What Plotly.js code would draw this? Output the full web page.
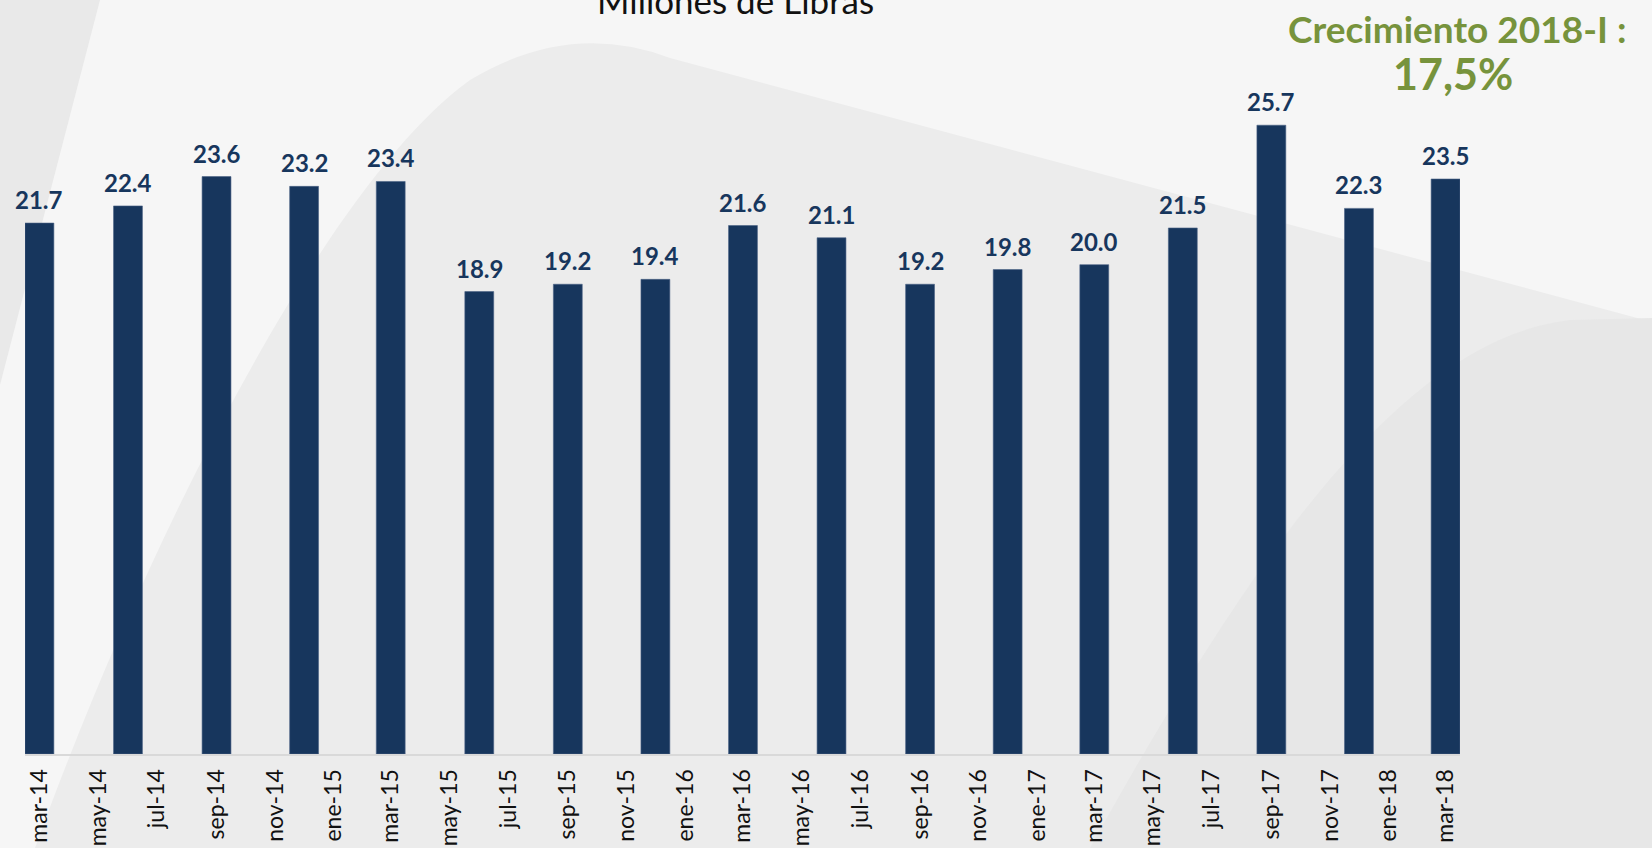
<!DOCTYPE html>
<html>
<head>
<meta charset="utf-8">
<script src="https://cdn.plot.ly/plotly-3.0.1.min.js"></script>
<style>html,body{margin:0;padding:0;background:#f6f6f6;}#chart{width:1652px;height:848px;}</style>
</head>
<body>
<div id="chart"></div>
<script>
// ---- data ----
const quarters = ['2014-03-01','2014-06-01','2014-09-01','2014-12-01',
                  '2015-03-01','2015-06-01','2015-09-01','2015-12-01',
                  '2016-03-01','2016-06-01','2016-09-01','2016-12-01',
                  '2017-03-01','2017-06-01','2017-09-01','2017-12-01',
                  '2018-03-01'];
const values = [21.7, 22.4, 23.6, 23.2, 23.4, 18.9, 19.2, 19.4, 21.6, 21.1,
                19.2, 19.8, 20.0, 21.5, 25.7, 22.3, 23.5];
const tickDates = ['2014-03-01','2014-05-01','2014-07-01','2014-09-01','2014-11-01',
                   '2015-01-01','2015-03-01','2015-05-01','2015-07-01','2015-09-01','2015-11-01',
                   '2016-01-01','2016-03-01','2016-05-01','2016-07-01','2016-09-01','2016-11-01',
                   '2017-01-01','2017-03-01','2017-05-01','2017-07-01','2017-09-01','2017-11-01',
                   '2018-01-01','2018-03-01'];
const tickLabels = ['mar-14','may-14','jul-14','sep-14','nov-14',
                    'ene-15','mar-15','may-15','jul-15','sep-15','nov-15',
                    'ene-16','mar-16','may-16','jul-16','sep-16','nov-16',
                    'ene-17','mar-17','may-17','jul-17','sep-17','nov-17',
                    'ene-18','mar-18'];
const unitTitle = 'Millones de Libras';
const growthTitle = 'Crecimiento 2018-I :';
const growthValue = '17,5%';

// ---- layout geometry ----
const W = 1652, H = 848;
const M = {l: 25, r: 192, t: 20, b: 94};
const PW = W - M.l - M.r, PH = H - M.t - M.b;
function px(x) { return ((x - M.l) / PW).toFixed(5); }
function py(y) { return ((H - M.b - y) / PH).toFixed(5); }
function pt(x, y) { return px(x) + ',' + py(y); }

const NAVY = '#17365d';
const GREEN = '#77933c';
const DAY = 86400000;

const bars = {
  type: 'bar',
  x: quarters,
  y: values,
  width: quarters.map(() => 30 * DAY),
  marker: {color: NAVY, line: {color: '#4a6284', width: 0.6}},
  hoverinfo: 'x+y'
};

const labelAnnotations = quarters.map((q, i) => ({
  x: q, y: values[i], xref: 'x', yref: 'y',
  text: values[i].toFixed(1),
  showarrow: false, yanchor: 'bottom', xanchor: 'center', yshift: 7,
  font: {family: 'Lato, sans-serif', size: 24, color: NAVY, weight: 700}
}));

const annotations = labelAnnotations.concat([
  {xref: 'paper', yref: 'paper', x: +px(736), y: 1.0, xanchor: 'center', yanchor: 'bottom',
   yshift: -3,
   text: unitTitle, showarrow: false,
   font: {family: 'Lato, sans-serif', size: 35, color: '#111111'}},
  {xref: 'paper', yref: 'paper', x: +px(1457), y: +py(28), xanchor: 'center', yanchor: 'middle',
   text: '<b>' + growthTitle + '</b>', showarrow: false,
   font: {family: 'Lato, sans-serif', size: 37, color: GREEN}},
  {xref: 'paper', yref: 'paper', x: +px(1453), y: +py(73), xanchor: 'center', yanchor: 'middle',
   text: '<b>' + growthValue + '</b>', showarrow: false,
   font: {family: 'Lato, sans-serif', size: 43, color: GREEN}}
]);

const shapes = [
  // left strip
  {type: 'path', xref: 'paper', yref: 'paper', layer: 'below',
   path: 'M' + pt(0, 0) + ' L' + pt(100, 0) + ' L' + pt(0, 385) + ' Z',
   fillcolor: '#e9e9e9', line: {width: 0}},
  // big swoosh
  {type: 'path', xref: 'paper', yref: 'paper', layer: 'below',
   path: 'M' + pt(35, 848) + ' C' + pt(150, 530) + ' ' + pt(330, 180) + ' ' + pt(470, 80) +
         ' Q' + pt(570, 20) + ' ' + pt(670, 58) + ' L' + pt(1652, 322) + ' L' + pt(1652, 848) + ' Z',
   fillcolor: '#ececec', line: {width: 0}},
  // lower right swoosh
  {type: 'path', xref: 'paper', yref: 'paper', layer: 'below',
   path: 'M' + pt(1090, 848) + ' C' + pt(1250, 560) + ' ' + pt(1400, 340) + ' ' + pt(1570, 320) +
         ' L' + pt(1652, 318) + ' L' + pt(1652, 848) + ' Z',
   fillcolor: '#e7e7e7', line: {width: 0}}
];

const layout = {
  width: W, height: H,
  margin: M,
  paper_bgcolor: '#f6f6f6',
  plot_bgcolor: 'rgba(0,0,0,0)',
  showlegend: false,
  xaxis: {
    type: 'date',
    range: ['2014-02-14', '2018-03-16'],
    tickmode: 'array', tickvals: tickDates, ticktext: tickLabels,
    tickangle: -90,
    ticks: 'outside', ticklen: 4, tickcolor: 'rgba(0,0,0,0)',
    tickfont: {family: 'Lato, sans-serif', size: 23, color: '#111111'},
    showgrid: false, zeroline: false,
    showline: true, linecolor: '#d9d9d9', linewidth: 2,
    fixedrange: true
  },
  yaxis: {
    range: [0, 30],
    visible: false, showgrid: false, zeroline: false,
    fixedrange: true
  },
  annotations: annotations,
  shapes: shapes
};

Plotly.newPlot('chart', [bars], layout, {displayModeBar: false, staticPlot: true});
</script>
</body>
</html>
